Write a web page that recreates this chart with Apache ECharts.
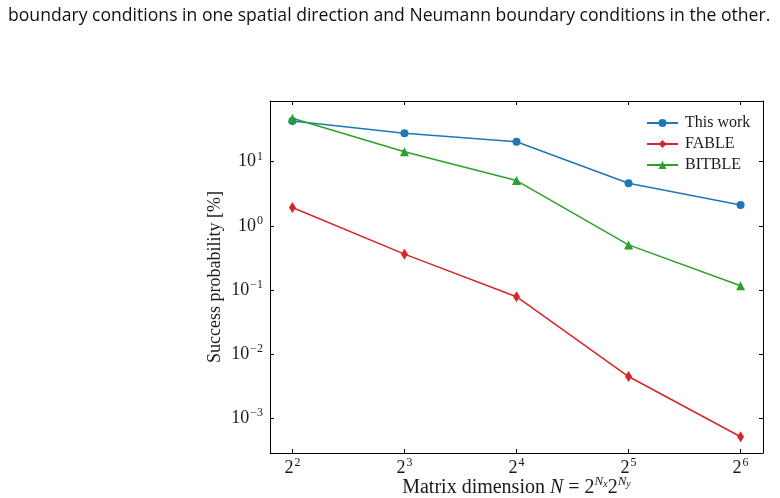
<!DOCTYPE html>
<html>
<head>
<meta charset="utf-8">
<script src="https://cdn.jsdelivr.net/npm/echarts@6/dist/echarts.min.js"></script>
<style>
html, body { margin: 0; padding: 0; background: #fff; }
#main { width: 780px; height: 498px; }
</style>
</head>
<body>
<div id="main"></div>
<script>
// datos (probabilidad de exito en %)
var sizes = [4, 8, 16, 32, 64];
var seriesNames = ['This work', 'FABLE', 'BITBLE'];
var thisWork = [43.1, 27.7, 20.5, 4.61, 2.12];
var fable = [1.93, 0.362, 0.0787, 0.00448, 0.000516];
var bitble = [47.5, 14.3, 5.08, 0.505, 0.1167];

var serif = 'Liberation Serif';
var ink = '#1a1a1a';

function pairs(ys) {
  return sizes.map(function (x, i) { return [x, ys[i]]; });
}

function powLabel(base) {
  return function (v) {
    var e = Math.log(v) / Math.log(base);
    var r = Math.round(e);
    if (Math.abs(e - r) > 1e-6) return '';
    return base + '{sup|' + String(r).replace('-', '\u2212') + '}';
  };
}

var supRich = { sup: { fontSize: 12, fontFamily: serif, color: ink, padding: [0, 0, 10, 1] } };

var chartDom = document.getElementById('main');
var myChart = echarts.init(chartDom);
var option;

option = {
  animation: false,
  title: {
    text: 'boundary conditions in one spatial direction and Neumann boundary conditions in the other.',
    left: 3,
    top: 2,
    textStyle: { fontFamily: 'Open Sans', fontSize: 17.6, fontWeight: 'normal', color: '#111' }
  },
  grid: { left: 270, right: 17, top: 101, bottom: 45, outerBoundsMode: 'none' },
  legend: {
    orient: 'vertical',
    left: 641,
    top: 110,
    itemWidth: 31,
    itemHeight: 10,
    itemGap: 5,
    data: seriesNames,
    textStyle: { fontFamily: serif, fontSize: 16, color: ink, padding: [0, 0, 0, 2] }
  },
  xAxis: [
    {
      type: 'log',
      logBase: 2,
      min: Math.pow(2, 1.8),
      max: Math.pow(2, 6.2),
      name: 'Matrix dimension {i|N} = 2{sup|N}{sub|x}2{sup|N}{sub|y}',
      nameLocation: 'middle',
      nameMoveOverlap: false,
      nameGap: 22,
      nameTextStyle: {
        fontFamily: serif, fontSize: 20, color: ink,
        rich: {
          i: { fontFamily: serif, fontStyle: 'italic', fontSize: 20, color: ink },
          sup: { fontFamily: serif, fontStyle: 'italic', fontSize: 13, color: ink, padding: [0, 0, 12, 0] },
          sub: { fontFamily: serif, fontStyle: 'italic', fontSize: 10, color: ink, padding: [0, 0, 7, 0] }
        }
      },
      axisLine: { lineStyle: { color: '#000', width: 1 } },
      axisTick: { inside: true, length: 4, lineStyle: { color: '#000' } },
      minorTick: { show: false },
      splitLine: { show: false },
      axisLabel: {
        formatter: powLabel(2), margin: 4,
        fontFamily: serif, fontSize: 18, color: ink, rich: supRich
      }
    },
    {
      type: 'log',
      logBase: 2,
      position: 'top',
      min: Math.pow(2, 1.8),
      max: Math.pow(2, 6.2),
      axisLine: { lineStyle: { color: '#000', width: 1 } },
      axisTick: { inside: true, length: 4, lineStyle: { color: '#000' } },
      splitLine: { show: false },
      axisLabel: { show: false }
    }
  ],
  yAxis: [
    {
      type: 'log',
      logBase: 10,
      min: 2.88e-4,
      max: 88.3,
      name: 'Success probability [%]',
      nameLocation: 'middle',
      nameMoveOverlap: false,
      nameGap: 46,
      nameTextStyle: { fontFamily: serif, fontSize: 18, color: ink },
      axisLine: { lineStyle: { color: '#000', width: 1 } },
      axisTick: { inside: true, length: 4, lineStyle: { color: '#000' } },
      minorTick: { show: false },
      splitLine: { show: false },
      axisLabel: {
        formatter: powLabel(10), margin: 7,
        fontFamily: serif, fontSize: 18, color: ink, rich: supRich
      }
    },
    {
      type: 'log',
      logBase: 10,
      position: 'right',
      min: 2.88e-4,
      max: 88.3,
      axisLine: { lineStyle: { color: '#000', width: 1 } },
      axisTick: { inside: true, length: 4, lineStyle: { color: '#000' } },
      splitLine: { show: false },
      axisLabel: { show: false }
    }
  ],
  series: [
    {
      name: seriesNames[0],
      type: 'line',
      data: pairs(thisWork),
      color: '#1f77b4',
      symbol: 'circle',
      symbolSize: 8,
      lineStyle: { width: 1.5 }
    },
    {
      name: seriesNames[1],
      type: 'line',
      data: pairs(fable),
      color: '#d62728',
      symbol: 'diamond',
      symbolSize: [7, 11],
      lineStyle: { width: 1.5 }
    },
    {
      name: seriesNames[2],
      type: 'line',
      data: pairs(bitble),
      color: '#2ca02c',
      symbol: 'triangle',
      symbolSize: 9,
      lineStyle: { width: 1.5 }
    }
  ]
};

option && myChart.setOption(option);
</script>
</body>
</html>
